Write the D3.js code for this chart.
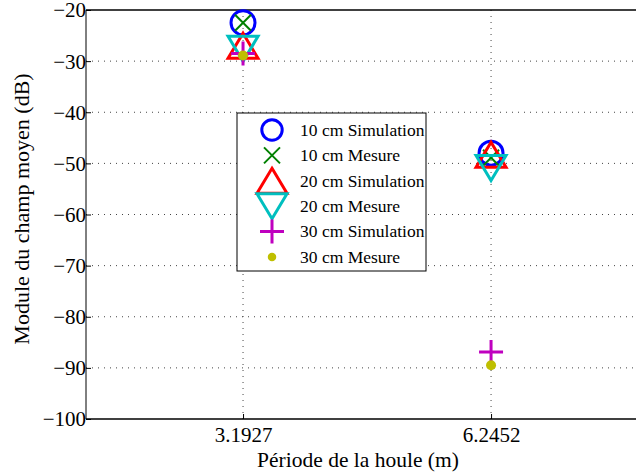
<!DOCTYPE html>
<html>
<head>
<meta charset="utf-8">
<script src="https://cdn.jsdelivr.net/npm/d3@7"></script>
<style>
  body { margin: 0; background: #fff; }
  text { font-family: "Liberation Serif", "Times New Roman", serif; fill: #000; }
</style>
</head>
<body>
<svg id="chart" width="636" height="472"></svg>
<script>
// data
var periods = [3.1927, 6.2452];
var seriesNames = ["10 cm Simulation", "10 cm Mesure", "20 cm Simulation", "20 cm Mesure", "30 cm Simulation", "30 cm Mesure"];
var sim10 = [-22.5, -48.0];
var mes10 = [-22.5, -48.9];
var sim20 = [-27.0, -48.3];
var mes20 = [-27.6, -50.9];
var sim30 = [-28.5, -86.9];
var mes30 = [-28.9, -89.5];
var yTicks = [-100, -90, -80, -70, -60, -50, -40, -30, -20];

var margin = {top: 10, left: 86, bottom: 419},
    width = 636, height = 472;

var svg = d3.select("#chart");

var x = d3.scaleLinear()
    .domain([1.26, 8.2])
    .range([margin.left, margin.left + (8.2 - 1.26) * 81.25]);
var y = d3.scaleLinear()
    .domain([-100, -20])
    .range([margin.bottom, margin.top]);

// grid (dotted)
svg.append("g").selectAll("line.hg")
    .data(yTicks.slice(1, -1))
    .enter().append("line")
    .attr("x1", margin.left).attr("x2", width)
    .attr("y1", function(d) { return y(d); })
    .attr("y2", function(d) { return y(d); })
    .attr("stroke", "#444").attr("stroke-width", 1)
    .attr("stroke-dasharray", "1,5");
svg.append("g").selectAll("line.vg")
    .data(periods)
    .enter().append("line")
    .attr("x1", function(d) { return x(d); })
    .attr("x2", function(d) { return x(d); })
    .attr("y1", margin.top).attr("y2", margin.bottom)
    .attr("stroke", "#444").attr("stroke-width", 1)
    .attr("stroke-dasharray", "1,5");

// axes
var yAxis = svg.append("g")
    .attr("transform", "translate(" + margin.left + ",0)")
    .call(d3.axisLeft(y).tickValues(yTicks).tickSize(-5).tickPadding(0)
        .tickFormat(function(d) { return "\u2212" + Math.abs(d); }));
var xAxis = svg.append("g")
    .attr("transform", "translate(0," + margin.bottom + ")")
    .call(d3.axisBottom(x).tickValues(periods).tickSize(-5).tickPadding(8)
        .tickFormat(d3.format(".4f")));
[yAxis, xAxis].forEach(function(a) {
    a.select(".domain").remove();
    a.selectAll("line").attr("stroke", "#000");
    a.selectAll("text").style("font-family", "Liberation Serif").style("font-size", "21px");
});
yAxis.selectAll("text").attr("dy", "0.33em");

// box
svg.append("line").attr("x1", margin.left).attr("x2", margin.left)
    .attr("y1", margin.top).attr("y2", margin.bottom).attr("stroke", "#000");
svg.append("line").attr("x1", margin.left).attr("x2", width)
    .attr("y1", margin.bottom).attr("y2", margin.bottom).attr("stroke", "#000").attr("stroke-width", 1.5);
svg.append("line").attr("x1", margin.left).attr("x2", width)
    .attr("y1", margin.top).attr("y2", margin.top).attr("stroke", "#000").attr("stroke-width", 1.5);

// axis titles
svg.append("text")
    .attr("x", 358).attr("y", 467)
    .attr("text-anchor", "middle")
    .style("font-size", "21.5px")
    .text("Période de la houle (m)");
svg.append("text")
    .attr("transform", "translate(29,209) rotate(-90)")
    .attr("text-anchor", "middle")
    .style("font-size", "22px")
    .text("Module du champ moyen (dB)");

// marker drawers
function circleM(g, s) {
    g.append("circle").attr("r", 12 * s).attr("fill", "none")
        .attr("stroke", "#0000ff").attr("stroke-width", 3);
}
function crossM(g, s) {
    var r = 8;
    g.append("path").attr("d", "M" + (-r) + "," + (-r) + "L" + r + "," + r + "M" + (-r) + "," + r + "L" + r + "," + (-r))
        .attr("stroke", "#008000").attr("stroke-width", 2).attr("fill", "none");
}
function triUp(g, s) {
    var w = 15, h = 12.5;
    g.append("path").attr("d", "M0," + (-h) + "L" + w + "," + h + "L" + (-w) + "," + h + "Z")
        .attr("stroke", "#ff0000").attr("stroke-width", 3).attr("fill", "none");
}
function triDown(g, s) {
    var w = 15, h = 12.5;
    g.append("path").attr("d", "M0," + h + "L" + w + "," + (-h) + "L" + (-w) + "," + (-h) + "Z")
        .attr("stroke", "#00bfbf").attr("stroke-width", 3).attr("fill", "none");
}
function plusM(g, s) {
    var r = 12;
    g.append("path").attr("d", "M" + (-r) + ",0L" + r + ",0M0," + (-r) + "L0," + r)
        .attr("stroke", "#bf00bf").attr("stroke-width", 3).attr("fill", "none");
}
function dotM(g, s) {
    g.append("circle").attr("r", 5 * s).attr("fill", "#bfbf00").attr("stroke", "none");
}

var series = [
    {values: sim10, draw: circleM},
    {values: mes10, draw: crossM},
    {values: sim20, draw: triUp},
    {values: mes20, draw: triDown},
    {values: sim30, draw: plusM},
    {values: mes30, draw: dotM}
];

series.forEach(function(sr) {
    sr.values.forEach(function(v, i) {
        var g = svg.append("g")
            .attr("transform", "translate(" + x(periods[i]) + "," + y(v) + ")");
        sr.draw(g, 1);
    });
});

// legend
var legend = svg.append("g").attr("transform", "translate(237,113)");
legend.append("rect").attr("width", 189).attr("height", 158)
    .attr("fill", "#fff").attr("stroke", "#000").attr("stroke-width", 1);
seriesNames.forEach(function(name, i) {
    var row = legend.append("g").attr("transform", "translate(35," + (17 + i * 25.4) + ")");
    series[i].draw(row, 0.85);
    row.append("text").attr("x", 28).attr("dy", "0.33em")
        .style("font-size", "17.5px").text(name);
});
</script>
</body>
</html>
